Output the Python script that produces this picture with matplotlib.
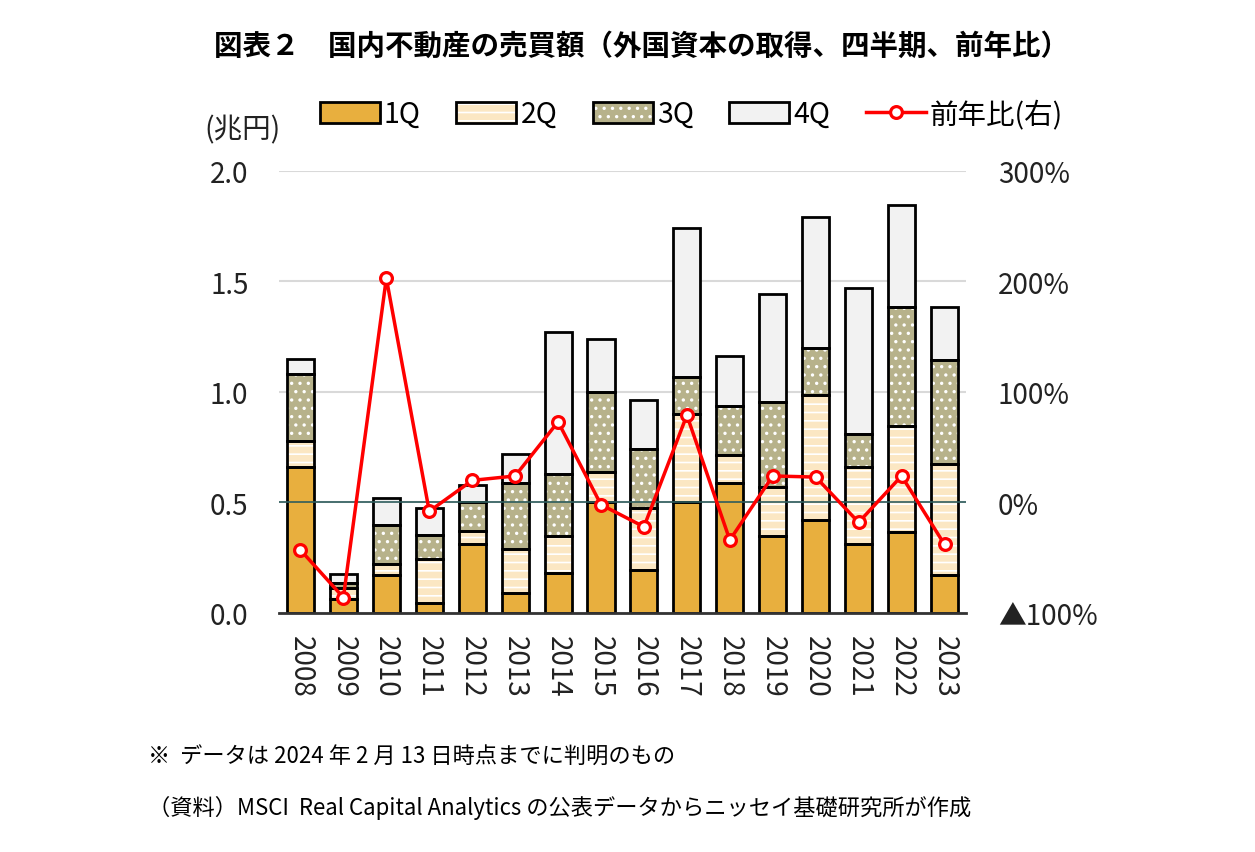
import numpy as np
import matplotlib
matplotlib.use('Agg')
import matplotlib.pyplot as plt

plt.rcParams['font.family'] = ['Noto Sans CJK JP', 'DejaVu Sans']
plt.rcParams['hatch.linewidth'] = 1.2

# data (trillion yen)
years = ['2008', '2009', '2010', '2011', '2012', '2013', '2014', '2015',
         '2016', '2017', '2018', '2019', '2020', '2021', '2022', '2023']
q1 = [0.66, 0.065, 0.17, 0.045, 0.31, 0.09, 0.18, 0.50, 0.195, 0.50, 0.59, 0.35, 0.42, 0.31, 0.365, 0.17]
q2 = [0.12, 0.05, 0.05, 0.20, 0.06, 0.20, 0.17, 0.14, 0.28, 0.40, 0.125, 0.22, 0.565, 0.35, 0.48, 0.505]
q3 = [0.30, 0.02, 0.18, 0.11, 0.13, 0.30, 0.28, 0.36, 0.265, 0.17, 0.22, 0.385, 0.215, 0.15, 0.54, 0.47]
q4 = [0.07, 0.04, 0.12, 0.12, 0.08, 0.13, 0.64, 0.24, 0.225, 0.67, 0.23, 0.49, 0.59, 0.66, 0.46, 0.24]
# year-on-year change (%), right axis
yoy = [-43, -86, 203, -8, 20, 24, 73, -2, -22, 79, -34, 24, 23, -18, 24, -38]

series = [q1, q2, q3, q4]
labels = ['1Q', '2Q', '3Q', '4Q']
colors = ['#E8AF3E', '#FBE7C3', '#B7B28B', '#F2F2F2']
hatches = [None, '--', '..', None]

fig = plt.figure(figsize=(12.55, 8.53), dpi=100)
ax = fig.add_axes([0.2223, 0.2802, 0.5474, 0.5182])

x = np.arange(len(years))
w = 0.63
bottom = np.zeros(len(years))
handles = []
for vals, lab, col, h in zip(series, labels, colors, hatches):
    vals = np.array(vals)
    fill = ax.bar(x, vals, w, bottom=bottom, color=col, edgecolor='white',
                  linewidth=0, hatch=h, zorder=2)
    edge = ax.bar(x, vals, w, bottom=bottom, fill=False, edgecolor='black',
                  linewidth=2.0, zorder=3)
    handles.append((fill.patches[0], edge.patches[0]))
    bottom += vals

ax.set_xlim(-0.5, len(years) - 0.5)
ax.set_ylim(0, 2.0)
ax.set_yticks([0, 0.5, 1.0, 1.5, 2.0])
ax.set_yticklabels(['0.0', '0.5', '1.0', '1.5', '2.0'])
ax.set_xticks(x)
ax.set_xticklabels(years, rotation=-90)
ax.tick_params(axis='y', length=0, pad=22, labelsize=20, colors='#222222')
ax.tick_params(axis='x', length=0, pad=16, labelsize=20, colors='#222222')
ax.yaxis.grid(True, color='#D9D9D9', linewidth=1.5, zorder=0)
ax.set_axisbelow(True)
for s in ['left', 'right', 'top']:
    ax.spines[s].set_visible(False)
ax.spines['bottom'].set_color('#333333')
ax.spines['bottom'].set_linewidth(2)
ax.spines['bottom'].set_zorder(4)

ax2 = ax.twinx()
ax2.set_ylim(-100, 300)
ax2.set_yticks([-100, 0, 100, 200, 300])
ax2.set_yticklabels(['▲100%', '0%', '100%', '200%', '300%'])
ax2.tick_params(axis='y', length=0, pad=23, labelsize=20, colors='#222222')
for s in ['left', 'right', 'top', 'bottom']:
    ax2.spines[s].set_visible(False)
ax2.axhline(0, color='#2E5D5D', linewidth=1.2, zorder=1)
line, = ax2.plot(x, yoy, color='#FF0000', linewidth=2.5, marker='o',
                 markersize=8.5, markerfacecolor='white', markeredgecolor='#FF0000',
                 markeredgewidth=2.3, zorder=5)

handles.append(line)
fig.legend(handles, labels + ['前年比(右)'], loc='center', ncol=5,
           bbox_to_anchor=(0.551, 0.865), frameon=False, fontsize=20.5,
           handlelength=2.1, handleheight=0.75, handletextpad=0.15,
           columnspacing=1.25)

fig.text(0.163, 0.847, '(兆円)', fontsize=20.5, color='#222222', ha='left', va='center')

fig.text(0.511, 0.945, '図表２　国内不動産の売買額（外国資本の取得、四半期、前年比）',
         fontsize=20.5, fontweight='bold', ha='center', va='center')

fig.text(0.118, 0.1125, '※  データは 2024 年 2 月 13 日時点までに判明のもの',
         fontsize=16, ha='left', va='center')
fig.text(0.118, 0.053, '（資料）MSCI  Real Capital Analytics の公表データからニッセイ基礎研究所が作成',
         fontsize=16, ha='left', va='center')

fig.savefig('out.png', dpi=100)
